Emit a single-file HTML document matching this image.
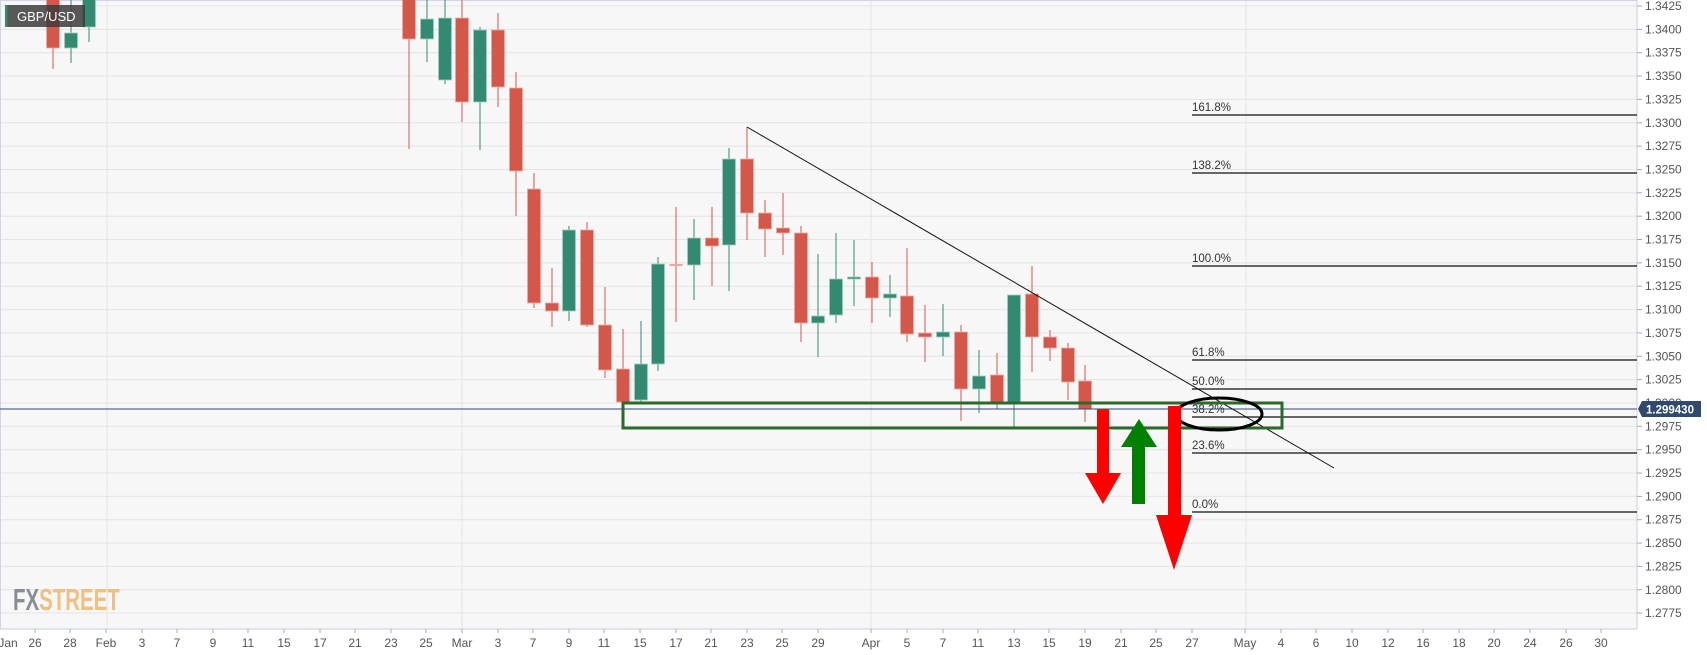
<!DOCTYPE html>
<html><head><meta charset="utf-8"><style>
html,body{margin:0;padding:0;background:#fff;}
svg{display:block;font-family:"Liberation Sans",Arial,sans-serif;}
</style></head><body>
<svg width="1707" height="655" viewBox="0 0 1707 655" xmlns="http://www.w3.org/2000/svg">
<rect x="0" y="0" width="1707" height="655" fill="#ffffff"/>
<rect x="0" y="0" width="1637" height="629" fill="#f7f7f7"/>
<g stroke="#e4e4e4" stroke-width="1">
<line x1="0" y1="6" x2="1637" y2="6"/><line x1="0" y1="29.4" x2="1637" y2="29.4"/><line x1="0" y1="52.7" x2="1637" y2="52.7"/><line x1="0" y1="76" x2="1637" y2="76"/><line x1="0" y1="99.4" x2="1637" y2="99.4"/><line x1="0" y1="122.8" x2="1637" y2="122.8"/><line x1="0" y1="146.1" x2="1637" y2="146.1"/><line x1="0" y1="169.5" x2="1637" y2="169.5"/><line x1="0" y1="192.8" x2="1637" y2="192.8"/><line x1="0" y1="216.2" x2="1637" y2="216.2"/><line x1="0" y1="239.5" x2="1637" y2="239.5"/><line x1="0" y1="262.9" x2="1637" y2="262.9"/><line x1="0" y1="286.2" x2="1637" y2="286.2"/><line x1="0" y1="309.6" x2="1637" y2="309.6"/><line x1="0" y1="332.9" x2="1637" y2="332.9"/><line x1="0" y1="356.3" x2="1637" y2="356.3"/><line x1="0" y1="379.6" x2="1637" y2="379.6"/><line x1="0" y1="403" x2="1637" y2="403"/><line x1="0" y1="426.3" x2="1637" y2="426.3"/><line x1="0" y1="449.7" x2="1637" y2="449.7"/><line x1="0" y1="473" x2="1637" y2="473"/><line x1="0" y1="496.4" x2="1637" y2="496.4"/><line x1="0" y1="519.7" x2="1637" y2="519.7"/><line x1="0" y1="543.1" x2="1637" y2="543.1"/><line x1="0" y1="566.4" x2="1637" y2="566.4"/><line x1="0" y1="589.8" x2="1637" y2="589.8"/><line x1="0" y1="613" x2="1637" y2="613"/>
<line x1="107" y1="0" x2="107" y2="629"/><line x1="462" y1="0" x2="462" y2="629"/><line x1="871" y1="0" x2="871" y2="629"/><line x1="1246" y1="0" x2="1246" y2="629"/>
</g>
<line x1="0.5" y1="0" x2="0.5" y2="629" stroke="#d0d4e4"/>
<line x1="0" y1="0.5" x2="1637" y2="0.5" stroke="#d0d4e4"/>
<line x1="1637" y1="0" x2="1637" y2="629" stroke="#c8cde0"/>
<line x1="0" y1="629" x2="1637" y2="629" stroke="#c8cde0"/>

<!-- candles -->
<g id="c" stroke-width="1">
<g stroke="#d4574a"><line x1="53" y1="-5" x2="53" y2="69"/><line x1="409" y1="-5" x2="409" y2="149"/><line x1="462" y1="-5" x2="462" y2="122"/><line x1="498" y1="13" x2="498" y2="107"/><line x1="516" y1="72" x2="516" y2="216"/><line x1="534" y1="173" x2="534" y2="308"/><line x1="552" y1="268" x2="552" y2="327"/><line x1="587" y1="222" x2="587" y2="327"/><line x1="605" y1="287" x2="605" y2="378"/><line x1="623" y1="329" x2="623" y2="405"/><line x1="676" y1="207" x2="676" y2="322"/><line x1="712" y1="207" x2="712" y2="286"/><line x1="747" y1="127" x2="747" y2="240"/><line x1="765" y1="200" x2="765" y2="257"/><line x1="783" y1="193" x2="783" y2="255"/><line x1="801" y1="226" x2="801" y2="342"/><line x1="872" y1="262" x2="872" y2="323"/><line x1="907" y1="248" x2="907" y2="342"/><line x1="925" y1="305" x2="925" y2="362"/><line x1="961" y1="325" x2="961" y2="421"/><line x1="997" y1="353" x2="997" y2="409"/><line x1="1032" y1="266" x2="1032" y2="372"/><line x1="1050" y1="330" x2="1050" y2="361"/><line x1="1068" y1="343" x2="1068" y2="400"/><line x1="1085" y1="365" x2="1085" y2="422"/></g>
<g stroke="#338a72"><line x1="71" y1="-5" x2="71" y2="63"/><line x1="89" y1="-5" x2="89" y2="42"/><line x1="427" y1="-5" x2="427" y2="62"/><line x1="445" y1="-5" x2="445" y2="84"/><line x1="480" y1="27" x2="480" y2="150"/><line x1="569" y1="226" x2="569" y2="321"/><line x1="641" y1="321" x2="641" y2="402"/><line x1="658" y1="257" x2="658" y2="371"/><line x1="694" y1="219" x2="694" y2="300"/><line x1="729" y1="148" x2="729" y2="291"/><line x1="818" y1="254" x2="818" y2="357"/><line x1="836" y1="233" x2="836" y2="323"/><line x1="854" y1="240" x2="854" y2="306"/><line x1="890" y1="275" x2="890" y2="317"/><line x1="943" y1="304" x2="943" y2="356"/><line x1="979" y1="350" x2="979" y2="413"/><line x1="1014" y1="295" x2="1014" y2="428"/></g>
<g fill="#d4574a" stroke="#eaa9a0" stroke-width="0.8">
<rect x="46.5" y="-5" width="13" height="53"/><rect x="402.5" y="-5" width="13" height="44"/><rect x="455.5" y="18" width="13" height="84"/><rect x="491.5" y="30" width="13" height="57"/><rect x="509.5" y="88" width="13" height="83"/><rect x="527.5" y="189" width="13" height="114"/><rect x="545.5" y="303" width="13" height="8"/><rect x="580.5" y="230" width="13" height="95"/><rect x="598.5" y="325" width="13" height="45"/><rect x="616.5" y="369" width="13" height="33"/><rect x="705.5" y="238" width="13" height="8"/><rect x="740.5" y="159" width="13" height="54"/><rect x="758.5" y="213" width="13" height="16"/><rect x="776.5" y="228" width="13" height="5"/><rect x="794.5" y="233" width="13" height="90"/><rect x="865.5" y="277" width="13" height="21"/><rect x="900.5" y="296" width="13" height="38"/><rect x="918.5" y="333" width="13" height="4"/><rect x="954.5" y="332" width="13" height="57"/><rect x="990.5" y="375" width="13" height="27"/><rect x="1025.5" y="294" width="13" height="43"/><rect x="1043.5" y="337" width="13" height="11"/><rect x="1061.5" y="348" width="13" height="34"/><rect x="1078.5" y="381" width="13" height="28"/>
</g>
<rect x="669.5" y="264" width="13" height="2" fill="#eaa9a0"/>
<g fill="#338a72" stroke="#9fcfbf" stroke-width="0.8">
<rect x="64.5" y="33" width="13" height="15"/><rect x="82.5" y="-5" width="13" height="32"/><rect x="420.5" y="19" width="13" height="20"/><rect x="438.5" y="18" width="13" height="62"/><rect x="473.5" y="30" width="13" height="72"/><rect x="562.5" y="230" width="13" height="81"/><rect x="634.5" y="364" width="13" height="36"/><rect x="651.5" y="264" width="13" height="100"/><rect x="687.5" y="238" width="13" height="27"/><rect x="722.5" y="159" width="13" height="86"/><rect x="811.5" y="316" width="13" height="7"/><rect x="829.5" y="279" width="13" height="36"/><rect x="847.5" y="277" width="13" height="2"/><rect x="883.5" y="294" width="13" height="4"/><rect x="936.5" y="332" width="13" height="5"/><rect x="972.5" y="376" width="13" height="13"/><rect x="1007.5" y="295" width="13" height="107"/>
</g>
</g>

<!-- fib lines -->
<g stroke="#111" stroke-width="1.3">
<line x1="1192" y1="115" x2="1637" y2="115"/><line x1="1192" y1="173" x2="1637" y2="173"/><line x1="1192" y1="266" x2="1637" y2="266"/><line x1="1192" y1="360" x2="1637" y2="360"/><line x1="1192" y1="389" x2="1637" y2="389"/><line x1="1192" y1="417" x2="1637" y2="417"/><line x1="1192" y1="453" x2="1637" y2="453"/><line x1="1192" y1="512" x2="1637" y2="512"/>
</g>
<g font-size="11.5" fill="#333">
<text x="1192" y="111">161.8%</text><text x="1192" y="169">138.2%</text><text x="1192" y="262">100.0%</text><text x="1192" y="356">61.8%</text><text x="1192" y="385">50.0%</text><text x="1192" y="413">38.2%</text><text x="1192" y="449">23.6%</text><text x="1192" y="508">0.0%</text>
</g>

<!-- current price line -->
<line x1="0" y1="409" x2="1637" y2="409" stroke="#2f4a78" stroke-width="1"/>
<!-- trendline -->
<line x1="747" y1="127" x2="1334" y2="468" stroke="#111" stroke-width="1"/>
<!-- box -->
<rect x="623" y="403" width="659" height="25" fill="none" stroke="#2a6a2a" stroke-width="3"/>
<!-- ellipse -->
<ellipse cx="1219" cy="414" rx="43" ry="16" fill="none" stroke="#000" stroke-width="3"/>
<!-- arrows -->
<polygon points="1097,409 1109,409 1109,473 1121,473 1103,504 1085,473 1097,473" fill="#ff0000"/>
<polygon points="1139,419 1157,447 1145,447 1145,504 1132,504 1132,447 1121,447" fill="#008000"/>
<polygon points="1168,406 1181,406 1181,515 1192,515 1174,570 1156,515 1168,515" fill="#ff0000"/>

<!-- GBP/USD label -->
<rect x="5" y="5" width="80" height="22" fill="#3c3c3c" opacity="0.85"/>
<rect x="5" y="5" width="2.5" height="22" fill="#338a72"/>
<text x="17" y="21" font-size="13" fill="#fff">GBP/USD</text>

<!-- watermark -->
<text x="0" y="0" font-size="31" font-weight="bold" transform="translate(13,610) scale(0.66,1)"><tspan fill="#8a8d95">FX</tspan><tspan fill="#f0c080">STREET</tspan></text>

<!-- price axis -->
<g font-size="12" fill="#555">
<text x="1645" y="10">1.3425</text><text x="1645" y="33.4">1.3400</text><text x="1645" y="56.7">1.3375</text><text x="1645" y="80">1.3350</text><text x="1645" y="103.4">1.3325</text><text x="1645" y="126.8">1.3300</text><text x="1645" y="150.1">1.3275</text><text x="1645" y="173.5">1.3250</text><text x="1645" y="196.8">1.3225</text><text x="1645" y="220.2">1.3200</text><text x="1645" y="243.5">1.3175</text><text x="1645" y="266.9">1.3150</text><text x="1645" y="290.2">1.3125</text><text x="1645" y="313.6">1.3100</text><text x="1645" y="336.9">1.3075</text><text x="1645" y="360.3">1.3050</text><text x="1645" y="383.6">1.3025</text><text x="1645" y="407">1.3000</text><text x="1645" y="430.3">1.2975</text><text x="1645" y="453.7">1.2950</text><text x="1645" y="477">1.2925</text><text x="1645" y="500.4">1.2900</text><text x="1645" y="523.7">1.2875</text><text x="1645" y="547.1">1.2850</text><text x="1645" y="570.4">1.2825</text><text x="1645" y="593.8">1.2800</text><text x="1645" y="617">1.2775</text>
</g>
<g stroke="#aab" stroke-width="1">
<line x1="1637" y1="6" x2="1642" y2="6"/><line x1="1637" y1="29.4" x2="1642" y2="29.4"/><line x1="1637" y1="52.7" x2="1642" y2="52.7"/><line x1="1637" y1="76" x2="1642" y2="76"/><line x1="1637" y1="99.4" x2="1642" y2="99.4"/><line x1="1637" y1="122.8" x2="1642" y2="122.8"/><line x1="1637" y1="146.1" x2="1642" y2="146.1"/><line x1="1637" y1="169.5" x2="1642" y2="169.5"/><line x1="1637" y1="192.8" x2="1642" y2="192.8"/><line x1="1637" y1="216.2" x2="1642" y2="216.2"/><line x1="1637" y1="239.5" x2="1642" y2="239.5"/><line x1="1637" y1="262.9" x2="1642" y2="262.9"/><line x1="1637" y1="286.2" x2="1642" y2="286.2"/><line x1="1637" y1="309.6" x2="1642" y2="309.6"/><line x1="1637" y1="332.9" x2="1642" y2="332.9"/><line x1="1637" y1="356.3" x2="1642" y2="356.3"/><line x1="1637" y1="379.6" x2="1642" y2="379.6"/><line x1="1637" y1="426.3" x2="1642" y2="426.3"/><line x1="1637" y1="449.7" x2="1642" y2="449.7"/><line x1="1637" y1="473" x2="1642" y2="473"/><line x1="1637" y1="496.4" x2="1642" y2="496.4"/><line x1="1637" y1="519.7" x2="1642" y2="519.7"/><line x1="1637" y1="543.1" x2="1642" y2="543.1"/><line x1="1637" y1="566.4" x2="1642" y2="566.4"/><line x1="1637" y1="589.8" x2="1642" y2="589.8"/><line x1="1637" y1="613" x2="1642" y2="613"/>
</g>
<polygon points="1638,409 1642,401 1701,401 1701,417 1642,417" fill="#2f4a6e"/>
<text x="1646" y="413.5" font-size="11.5" font-weight="bold" fill="#fff">1.299430</text>

<!-- date axis -->
<g font-size="12" fill="#555" text-anchor="middle">
<text x="8" y="647">Jan</text><text x="35" y="647">26</text><text x="70" y="647">28</text><text x="106" y="647">Feb</text><text x="142" y="647">3</text><text x="177" y="647">7</text><text x="213" y="647">9</text><text x="248" y="647">11</text><text x="284" y="647">15</text><text x="320" y="647">17</text><text x="355" y="647">21</text><text x="391" y="647">23</text><text x="426" y="647">25</text><text x="462" y="647">Mar</text><text x="498" y="647">3</text><text x="533" y="647">7</text><text x="569" y="647">9</text><text x="604" y="647">11</text><text x="640" y="647">15</text><text x="676" y="647">17</text><text x="711" y="647">21</text><text x="747" y="647">23</text><text x="782" y="647">25</text><text x="818" y="647">29</text><text x="871" y="647">Apr</text><text x="907" y="647">5</text><text x="943" y="647">7</text><text x="978" y="647">11</text><text x="1014" y="647">13</text><text x="1049" y="647">15</text><text x="1085" y="647">19</text><text x="1121" y="647">21</text><text x="1156" y="647">25</text><text x="1192" y="647">27</text><text x="1245" y="647">May</text><text x="1281" y="647">4</text><text x="1316" y="647">6</text><text x="1352" y="647">10</text><text x="1388" y="647">12</text><text x="1423" y="647">16</text><text x="1459" y="647">18</text><text x="1494" y="647">20</text><text x="1530" y="647">24</text><text x="1566" y="647">26</text><text x="1601" y="647">30</text>
</g>
<g stroke="#aab">
<line x1="35" y1="629" x2="35" y2="633"/><line x1="70" y1="629" x2="70" y2="633"/><line x1="106" y1="629" x2="106" y2="633"/><line x1="142" y1="629" x2="142" y2="633"/><line x1="177" y1="629" x2="177" y2="633"/><line x1="213" y1="629" x2="213" y2="633"/><line x1="248" y1="629" x2="248" y2="633"/><line x1="284" y1="629" x2="284" y2="633"/><line x1="320" y1="629" x2="320" y2="633"/><line x1="355" y1="629" x2="355" y2="633"/><line x1="391" y1="629" x2="391" y2="633"/><line x1="426" y1="629" x2="426" y2="633"/><line x1="462" y1="629" x2="462" y2="633"/><line x1="498" y1="629" x2="498" y2="633"/><line x1="533" y1="629" x2="533" y2="633"/><line x1="569" y1="629" x2="569" y2="633"/><line x1="604" y1="629" x2="604" y2="633"/><line x1="640" y1="629" x2="640" y2="633"/><line x1="676" y1="629" x2="676" y2="633"/><line x1="711" y1="629" x2="711" y2="633"/><line x1="747" y1="629" x2="747" y2="633"/><line x1="782" y1="629" x2="782" y2="633"/><line x1="818" y1="629" x2="818" y2="633"/><line x1="871" y1="629" x2="871" y2="633"/><line x1="907" y1="629" x2="907" y2="633"/><line x1="943" y1="629" x2="943" y2="633"/><line x1="978" y1="629" x2="978" y2="633"/><line x1="1014" y1="629" x2="1014" y2="633"/><line x1="1049" y1="629" x2="1049" y2="633"/><line x1="1085" y1="629" x2="1085" y2="633"/><line x1="1121" y1="629" x2="1121" y2="633"/><line x1="1156" y1="629" x2="1156" y2="633"/><line x1="1192" y1="629" x2="1192" y2="633"/><line x1="1245" y1="629" x2="1245" y2="633"/><line x1="1281" y1="629" x2="1281" y2="633"/><line x1="1316" y1="629" x2="1316" y2="633"/><line x1="1352" y1="629" x2="1352" y2="633"/><line x1="1388" y1="629" x2="1388" y2="633"/><line x1="1423" y1="629" x2="1423" y2="633"/><line x1="1459" y1="629" x2="1459" y2="633"/><line x1="1494" y1="629" x2="1494" y2="633"/><line x1="1530" y1="629" x2="1530" y2="633"/><line x1="1566" y1="629" x2="1566" y2="633"/><line x1="1601" y1="629" x2="1601" y2="633"/>
</g>
</svg>
</body></html>
